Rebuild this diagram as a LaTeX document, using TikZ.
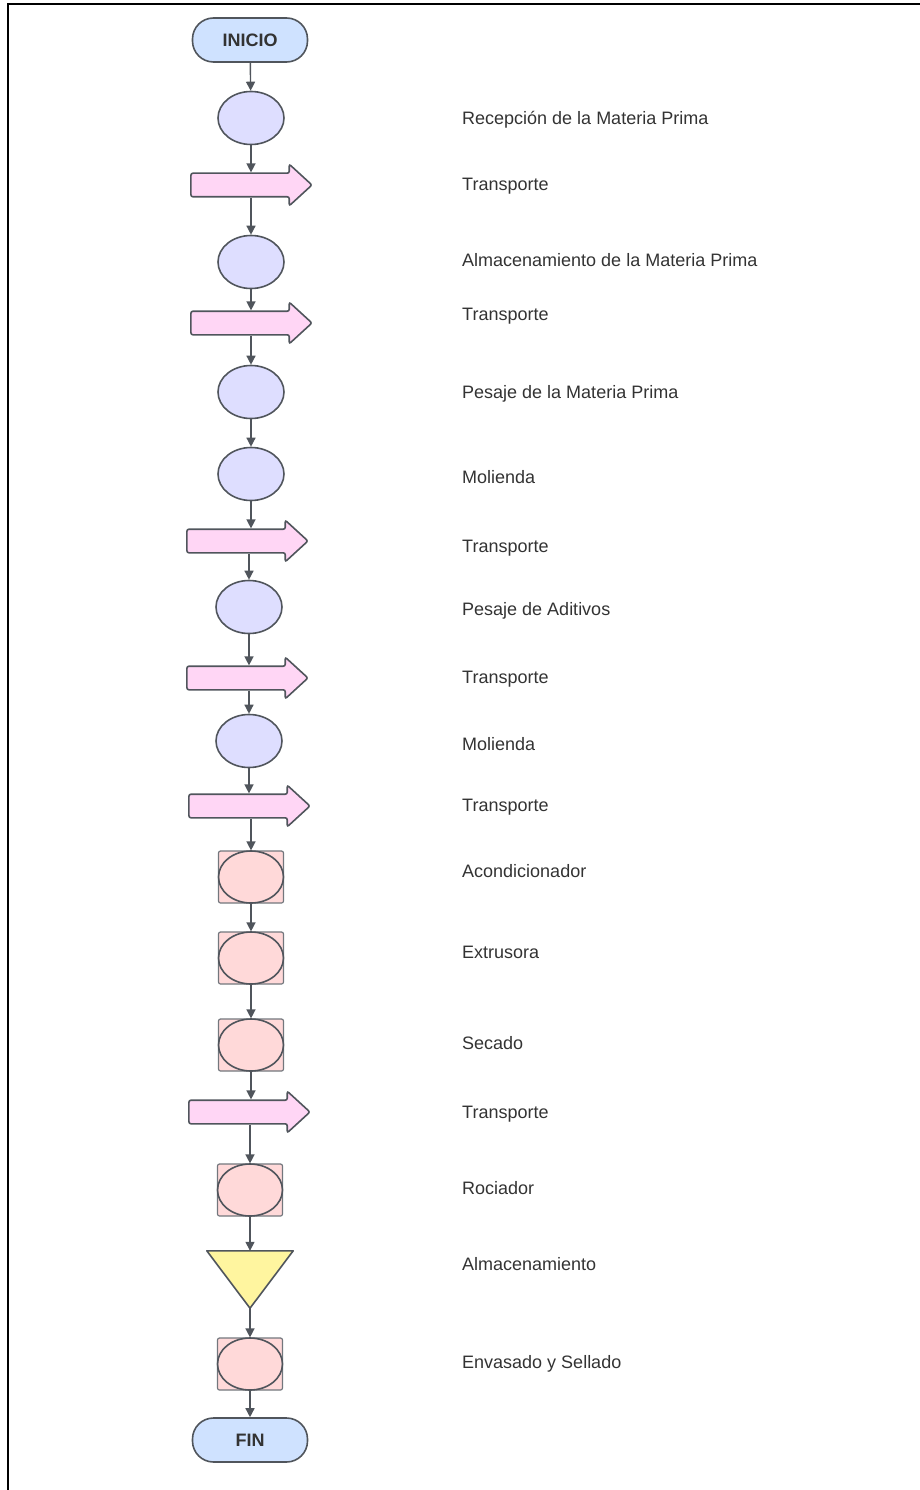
\documentclass[tikz,border=0pt]{standalone}
\usepackage{fontspec}
\setmainfont{Liberation Sans}
\usepackage{xcolor}
\usetikzlibrary{arrows.meta,shapes.geometric,shapes.arrows}
\definecolor{edge}{HTML}{50555C}
\definecolor{ink}{HTML}{333333}
\definecolor{termfill}{HTML}{CFE2FF}
\definecolor{opfill}{HTML}{DEDEFF}
\definecolor{movefill}{HTML}{FFD6F5}
\definecolor{machfill}{HTML}{FFD9D9}
\definecolor{storefill}{HTML}{FFF59F}
\tikzset{
  term/.style={rectangle,rounded corners=21pt,draw=edge,line width=1.6pt,fill=termfill,
    minimum width=115pt,minimum height=44pt,font=\fontsize{18}{20}\selectfont\bfseries,text=ink},
  oper/.style={ellipse,draw=edge,line width=1.6pt,fill=opfill,
    minimum width=66pt,minimum height=53pt,inner sep=0pt},
  move/.style={single arrow,rounded corners=2pt,draw=edge,line width=1.6pt,fill=movefill,
    minimum height=121pt,minimum width=40pt,inner sep=11pt,
    single arrow head extend=9pt,single arrow tip angle=85},
  machbox/.style={rectangle,rounded corners=2pt,draw=edge!80,line width=1.2pt,fill=machfill,
    minimum width=65pt,minimum height=52pt,inner sep=0pt},
  machell/.style={ellipse,draw=edge,line width=1.6pt,
    minimum width=65pt,minimum height=52pt,inner sep=0pt},
  store/.style={rectangle,minimum width=86pt,minimum height=57pt,inner sep=0pt},
  lbl/.style={anchor=west,font=\fontsize{18}{20}\selectfont,text=ink,
    text height=13pt,text depth=0pt,inner sep=0pt},
  arrow/.style={-{Triangle[length=9pt,width=9pt]},line width=1.4pt,draw=edge}
}
\begin{document}
\begin{tikzpicture}[x=1pt,y=-1pt]
\useasboundingbox (0,0) rectangle (920,1490);
\draw[line width=2.5pt] (920,4) -- (8,4) -- (8,1490);
% flow column
\node[term] (ini) at (250,40) {INICIO};
\node[oper] (o1) at (251,118) {};
\node[move] (t1) at (245,185) {};
\node[oper] (o2) at (251,262) {};
\node[move] (t2) at (245,323) {};
\node[oper] (o3) at (251,392) {};
\node[oper] (o4) at (251,474) {};
\node[move] (t3) at (241,541) {};
\node[oper] (o5) at (249,607) {};
\node[move] (t4) at (241,678) {};
\node[oper] (o6) at (249,741) {};
\node[move] (t5) at (243,806) {};
\node[machbox] (m1) at (251,877) {};\node[machell] (m1e) at (m1) {};
\node[machbox] (m2) at (251,958) {};\node[machell] (m2e) at (m2) {};
\node[machbox] (m3) at (251,1045) {};\node[machell] (m3e) at (m3) {};
\node[move] (t6) at (243,1112) {};
\node[machbox] (m4) at (250,1190) {};\node[machell] (m4e) at (m4) {};
\node[store] (alm) at (250,1279.5) {};
\draw[draw=edge,line width=1.6pt,fill=storefill,line join=round] (alm.north west) -- (alm.north east) -- (alm.south) -- cycle;
\node[machbox] (m5) at (250,1364) {};\node[machell] (m5e) at (m5) {};
\node[term] (fin) at (250,1440) {FIN};
% labels
\node[lbl] (l1) at (462,118) {Recepción de la Materia Prima};
\node[lbl] (l2) at (462,184) {Transporte};
\node[lbl] (l3) at (462,260) {Almacenamiento de la Materia Prima};
\node[lbl] (l4) at (462,314) {Transporte};
\node[lbl] (l5) at (462,392) {Pesaje de la Materia Prima};
\node[lbl] (l6) at (462,477) {Molienda};
\node[lbl] (l7) at (462,546) {Transporte};
\node[lbl] (l8) at (462,609) {Pesaje de Aditivos};
\node[lbl] (l9) at (462,677) {Transporte};
\node[lbl] (l10) at (462,744) {Molienda};
\node[lbl] (l11) at (462,805) {Transporte};
\node[lbl] (l12) at (462,871) {Acondicionador};
\node[lbl] (l13) at (462,952) {Extrusora};
\node[lbl] (l14) at (462,1043) {Secado};
\node[lbl] (l15) at (462,1112) {Transporte};
\node[lbl] (l16) at (462,1188) {Rociador};
\node[lbl] (l17) at (462,1264) {Almacenamiento};
\node[lbl] (l18) at (462,1362) {Envasado y Sellado};
% connectors
\draw[arrow] (ini)--(o1);\draw[arrow] (o1)--(o1 |- t1.north);\draw[arrow] (o2 |- t1.south)--(o2);
\draw[arrow] (o2)--(o2 |- t2.north);\draw[arrow] (o3 |- t2.south)--(o3);\draw[arrow] (o3)--(o4);
\draw[arrow] (o4)--(o4 |- t3.north);\draw[arrow] (o5 |- t3.south)--(o5);
\draw[arrow] (o5)--(o5 |- t4.north);\draw[arrow] (o6 |- t4.south)--(o6);
\draw[arrow] (o6)--(o6 |- t5.north);\draw[arrow] (m1 |- t5.south)--(m1);
\draw[arrow] (m1)--(m2);\draw[arrow] (m2)--(m3);\draw[arrow] (m3)--(m3 |- t6.north);\draw[arrow] (m4 |- t6.south)--(m4);
\draw[arrow] (m4)--(alm);\draw[arrow] (alm)--(m5);\draw[arrow] (m5)--(fin);
\end{tikzpicture}
\end{document}
